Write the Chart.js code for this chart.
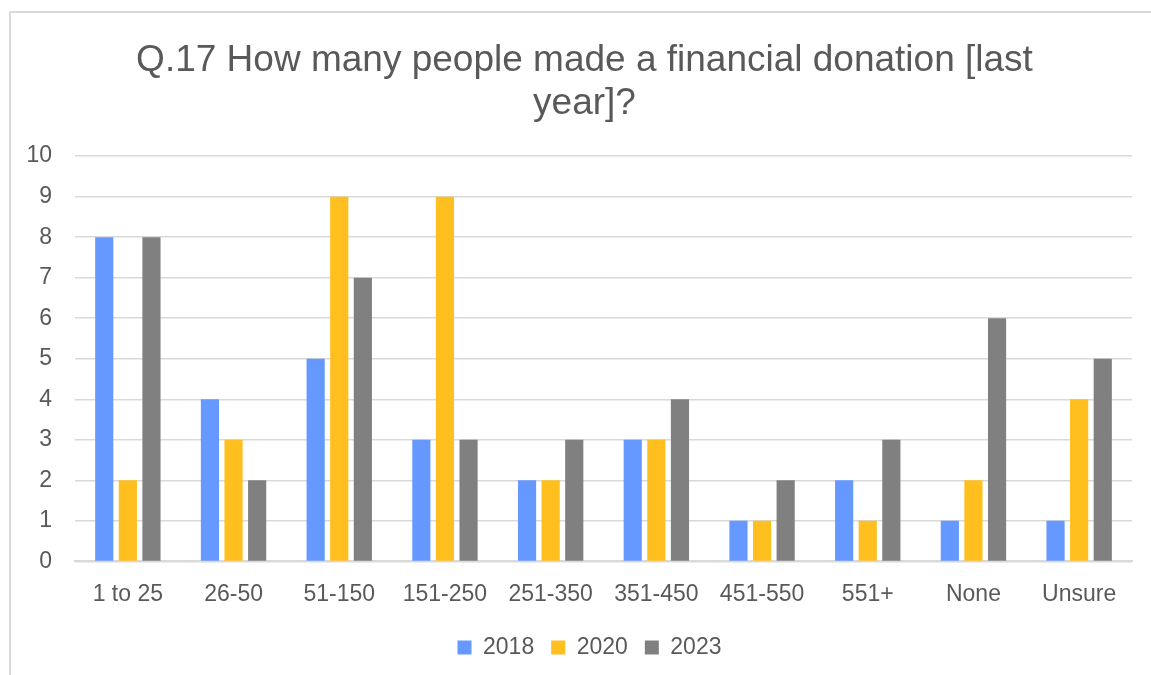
<!DOCTYPE html>
<html>
<head>
<meta charset="utf-8">
<script src="https://cdn.jsdelivr.net/npm/chart.js@4/dist/chart.umd.min.js"></script>
<style>
  body { margin: 0; background: #fff; }
  #wrap { position: absolute; left: 9px; top: 11px; width: 1142px; height: 664px;
          border-left: 2px solid #d9d9d9; border-top: 2px solid #d9d9d9; box-sizing: border-box; }
</style>
</head>
<body>
<div id="wrap"><canvas id="myChart"></canvas></div>
<script>
// data
const categories = ['1 to 25', '26-50', '51-150', '151-250', '251-350', '351-450', '451-550', '551+', 'None', 'Unsure'];
const years = ['2018', '2020', '2023'];
const values2018 = [8, 4, 5, 3, 2, 3, 1, 2, 1, 1];
const values2020 = [2, 3, 9, 9, 2, 3, 1, 1, 2, 4];
const values2023 = [8, 2, 7, 3, 3, 4, 2, 3, 6, 5];
const yTicks = [0, 1, 2, 3, 4, 5, 6, 7, 8, 9, 10];

const colors = ['#6699ff', '#ffbf1f', '#808080'];
const txt = '#595959';
const fam = '"Liberation Sans", Arial, sans-serif';

// nudge title and legend a little to the right, like the original
const boxShift = {
  id: 'boxShift',
  afterLayout(chart) {
    if (chart.titleBlock) {
      chart.titleBlock.left += 8;
      chart.titleBlock.right += 8;
    }
    if (chart.legend) {
      chart.legend.left += 13;
      chart.legend.right += 13;
    }
  }
};

function drawChart() {
  const ctx = document.getElementById('myChart').getContext('2d');
  const series = [values2018, values2020, values2023];
  new Chart(ctx, {
    type: 'bar',
    data: {
      labels: categories,
      datasets: series.map((d, i) => ({
        label: years[i],
        data: d,
        backgroundColor: colors[i],
        barPercentage: 0.77,
        categoryPercentage: 0.67
      }))
    },
    plugins: [boxShift],
    options: {
      responsive: true,
      maintainAspectRatio: false,
      animation: false,
      layout: { padding: { left: 10, right: 19, top: 27, bottom: 6 } },
      plugins: {
        title: {
          display: true,
          text: ['Q.17 How many people made a financial donation [last', 'year]?'],
          color: txt,
          font: { family: fam, size: 37, weight: 'normal', lineHeight: 1.15 },
          padding: { top: 0, bottom: 31 }
        },
        legend: {
          position: 'bottom',
          labels: {
            color: txt,
            boxWidth: 14,
            boxHeight: 14,
            padding: 17,
            font: { family: fam, size: 23 }
          }
        },
        tooltip: { enabled: false }
      },
      scales: {
        x: {
          grid: { display: false },
          border: { color: '#d9d9d9', width: 2 },
          ticks: { color: txt, padding: 11, font: { family: fam, size: 23 } }
        },
        y: {
          min: yTicks[0],
          max: yTicks[yTicks.length - 1],
          afterBuildTicks: axis => { axis.ticks = yTicks.map(v => ({ value: v })); },
          afterFit: axis => { axis.width = 54; },
          grid: { color: '#d9d9d9', lineWidth: 1.5, drawTicks: false },
          border: { display: false },
          ticks: { color: txt, padding: 23, font: { family: fam, size: 23 } }
        }
      }
    }
  });
}

drawChart();
</script>
</body>
</html>
